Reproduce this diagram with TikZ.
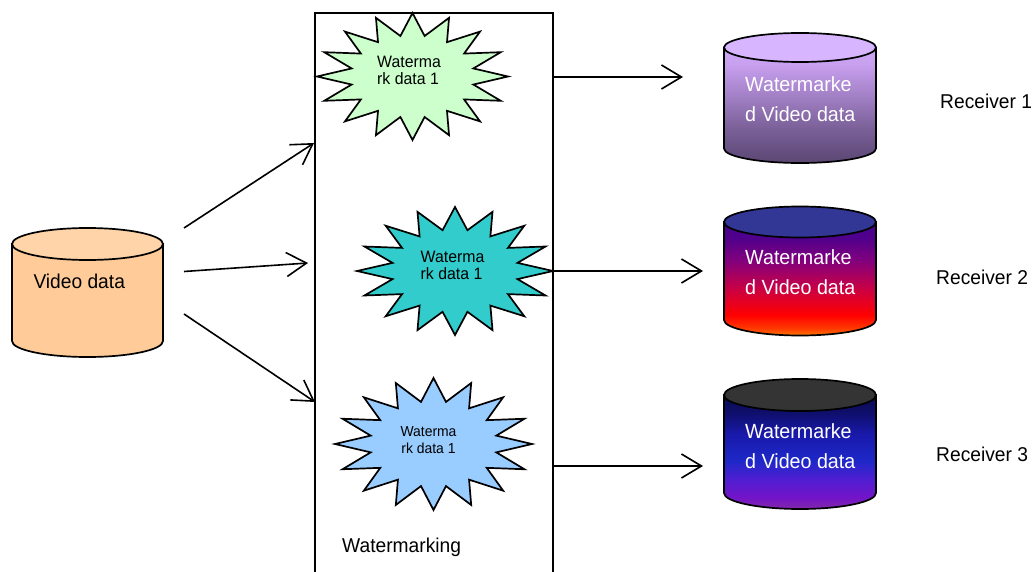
\documentclass[tikz,border=0pt]{standalone}
\usepackage{fontspec}
\setmainfont{Liberation Sans}[FakeStretch=0.96]
\usetikzlibrary{arrows.meta}
\definecolor{vidc}{RGB}{255,204,153}
\definecolor{vidtop}{RGB}{255,212,168}
\definecolor{starA}{RGB}{204,255,204}
\definecolor{starB}{RGB}{51,204,204}
\definecolor{starC}{RGB}{153,204,255}
\definecolor{cAa}{RGB}{90,70,115}
\definecolor{cAb}{RGB}{122,96,152}
\definecolor{cAc}{RGB}{165,130,200}
\definecolor{cAd}{RGB}{200,160,240}
\definecolor{cAe}{RGB}{206,166,246}
\definecolor{cAtop}{RGB}{216,182,255}
\definecolor{cBa}{RGB}{255,120,0}
\definecolor{cBb}{RGB}{255,60,0}
\definecolor{cBc}{RGB}{255,0,0}
\definecolor{cBd}{RGB}{200,0,70}
\definecolor{cBe}{RGB}{130,0,125}
\definecolor{cBf}{RGB}{80,0,140}
\definecolor{cBg}{RGB}{70,0,140}
\definecolor{cBtop}{RGB}{50,55,150}
\definecolor{cCa}{RGB}{130,40,170}
\definecolor{cCb}{RGB}{115,20,200}
\definecolor{cCc}{RGB}{80,30,210}
\definecolor{cCd}{RGB}{30,40,200}
\definecolor{cCe}{RGB}{25,25,170}
\definecolor{cCf}{RGB}{15,15,110}
\definecolor{cCg}{RGB}{10,10,80}
\definecolor{cCtop}{RGB}{52,52,52}
\pgfdeclareverticalshading{cylA}{100bp}{color(0bp)=(cAa); color(25bp)=(cAa); color(40bp)=(cAb); color(55bp)=(cAc); color(68bp)=(cAd); color(75bp)=(cAe); color(100bp)=(cAe)}
\pgfdeclareverticalshading{cylB}{100bp}{color(0bp)=(cBa); color(25bp)=(cBa); color(28bp)=(cBb); color(34bp)=(cBc); color(46bp)=(cBd); color(58bp)=(cBe); color(68bp)=(cBf); color(75bp)=(cBg); color(100bp)=(cBg)}
\pgfdeclareverticalshading{cylC}{100bp}{color(0bp)=(cCa); color(25bp)=(cCa); color(30bp)=(cCb); color(38bp)=(cCc); color(46bp)=(cCd); color(58bp)=(cCe); color(67bp)=(cCf); color(75bp)=(cCg); color(100bp)=(cCg)}
\newcommand\mycyl[7]{%
  \pgfmathsetmacro\cylL{#1-#4}%
  \pgfmathsetmacro\cylR{#1+#4}%
  \pgfmathsetmacro\cylKx{0.5523*#4}%
  \pgfmathsetmacro\cylKy{0.5523*#5}%
  \path[#6, draw=black, line width=1.7] (\cylL,#2) -- (\cylL,#3) .. controls (\cylL,#3+\cylKy) and (#1-\cylKx,#3+#5) .. (#1,#3+#5) .. controls (#1+\cylKx,#3+#5) and (\cylR,#3+\cylKy) .. (\cylR,#3) -- (\cylR,#2) -- cycle;
  \draw[fill=#7, line width=1.7] (#1,#2) ellipse [x radius=#4, y radius=#5];
}
\newcommand\mystar[5]{%
  \draw[fill=#5, line width=1.7, line join=miter] plot[samples at={0,1,...,31}, variable=\k] ({#1+(0.825+0.175*cos(180*\k))*#3*sin(11.25*\k)}, {#2-(0.825+0.175*cos(180*\k))*#4*cos(11.25*\k)}) -- cycle;
}
\tikzset{
  conn/.style={line width=1.6, -{Straight Barb[length=20pt, width=24pt, line width=1.6pt]}},
  bigtxt/.style={inner sep=0, font=\fontsize{20}{24}\selectfont},
  cyltxt/.style={inner sep=0, text=white, align=left, anchor=west, font=\fontsize{20.5}{29.5}\selectfont},
  startxt/.style={inner sep=0, align=left, anchor=west, font=\fontsize{16.5}{17}\selectfont},
}
\begin{document}
\begin{tikzpicture}[x=1pt, y=-1pt]
\useasboundingbox (0,0) rectangle (1033,572);
\clip (0,0) rectangle (1033,572);
\fill[white] (0,0) rectangle (1033,572);
% watermarking box
\node[draw, line width=1.8, minimum width=238, minimum height=600, anchor=north west, inner sep=0] (wm) at (314,12) {};
\begin{scope}
\clip (300,0) rectangle (560,558);
\node[bigtxt, anchor=base west] (wmlabel) at (342,552) {Watermarking};
\end{scope}
% stars
\mystar{412.5}{76.5}{95.5}{63.5}{starA}
\mystar{455}{271}{98}{64}{starB}
\mystar{433.5}{444}{98.5}{66}{starC}
\node[startxt] (s1) at (377,70.9) {Waterma\\rk data 1};
\node[startxt] (s2) at (420.5,265.4) {Waterma\\rk data 1};
\node[startxt, align=center, anchor=center, font=\fontsize{14.5}{16.6}\selectfont] (s3) at (428.5,439.8) {Waterma\\rk data 1};
% video data
\mycyl{87.5}{244}{341}{75.5}{16}{fill=vidc}{vidtop}
\node[bigtxt, anchor=base west] (vid) at (33.3,288.3) {Video data};
% watermarked cylinders
\mycyl{800}{47.5}{148.5}{76}{14.5}{shading=cylA}{cAtop}
\mycyl{800}{222}{320}{76}{15.5}{shading=cylB}{cBtop}
\mycyl{800}{395}{493}{76}{16}{shading=cylC}{cCtop}
\node[cyltxt] (c1) at (745,99.3) {Watermarke\\d Video data};
\node[cyltxt] (c2) at (745,272) {Watermarke\\d Video data};
\node[cyltxt] (c3) at (745,446) {Watermarke\\d Video data};
% receivers
\node[bigtxt, anchor=base west] (r1) at (940,108.3) {Receiver 1};
\node[bigtxt, anchor=base west] (r2) at (936,284.5) {Receiver 2};
\node[bigtxt, anchor=base west] (r3) at (936,461) {Receiver 3};
% connectors
\coordinate (v1) at (184,228); \coordinate (w1) at (314,143);
\coordinate (v2) at (184,271.5); \coordinate (w2) at (308,263);
\coordinate (v3) at (184,314); \coordinate (w3) at (315,402);
\coordinate (o1) at (552,77); \coordinate (t1) at (683,77);
\coordinate (o2) at (552,271); \coordinate (t2) at (703,271);
\coordinate (o3) at (552,466); \coordinate (t3) at (703,466);
\draw[conn] (v1) -- (w1);
\draw[conn] (v2) -- (w2);
\draw[conn] (v3) -- (w3);
\draw[conn] (o1) -- (t1);
\draw[conn] (o2) -- (t2);
\draw[conn] (o3) -- (t3);
\end{tikzpicture}
\end{document}
